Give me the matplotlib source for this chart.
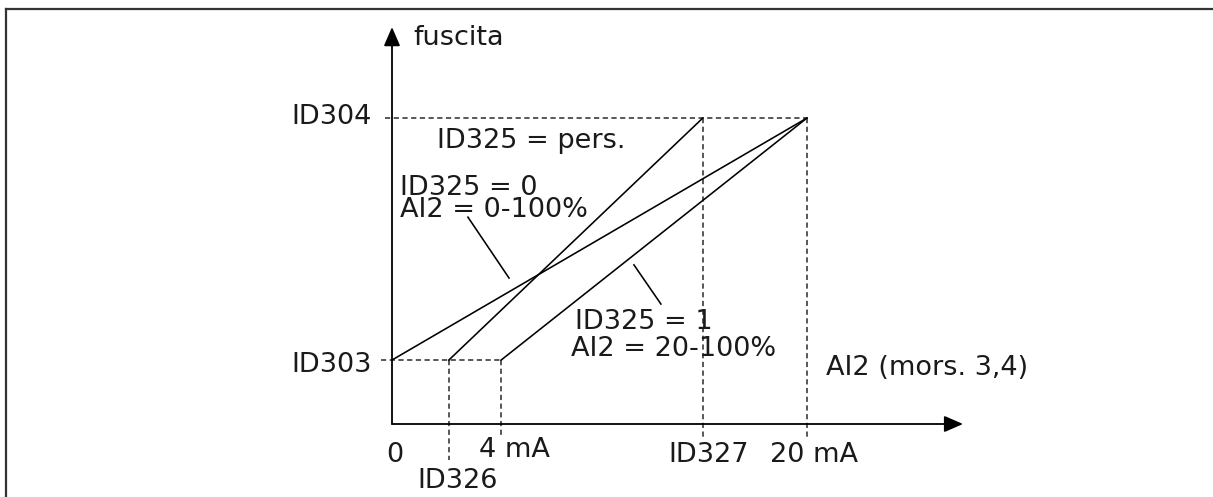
"""
Analog input AI2 scaling diagram (ID303/ID304, ID325, ID326/ID327)
Drawn on a plain axes with hand placed labels
"""

import matplotlib.pyplot as plt
from matplotlib.lines import Line2D

# Diagram values (x: 0..100 = 0..20 mA, y: 0..100 = output scale)
X_ID326 = 13.7
X_4MA = 26.3
X_ID327 = 74.9
X_20MA = 100.0
Y_ID303 = 20.9
Y_ID304 = 100.0

# characteristic curves
CURVE_0_100_X = [0.0, X_20MA]
CURVE_0_100_Y = [Y_ID303, Y_ID304]
CURVE_PERS_X = [X_ID326, X_ID327]
CURVE_PERS_Y = [Y_ID303, Y_ID304]
CURVE_20_100_X = [X_4MA, X_20MA]
CURVE_20_100_Y = [Y_ID303, Y_ID304]

FONT = 19.5
TXT = '#1a1a1a'
DASH = (0, (3.4, 2.3))


def create_diagram():
    fig = plt.figure(figsize=(12.13, 4.97), dpi=100, facecolor='white')
    ax = fig.add_axes([0, 0, 1, 1])
    # 4.15 px per x unit, 3.06 px per y unit, origin at pixel (392, 424)
    ax.set_xlim(-392 / 4.15, (1213 - 392) / 4.15)
    ax.set_ylim(-73 / 3.06, (497 - 73) / 3.06)
    ax.axis('off')

    # frame (top and left edges only)
    fig.add_artist(Line2D([6 / 1213, 1.0], [1 - 9 / 497, 1 - 9 / 497],
                          color='#333333', lw=1.6, transform=fig.transFigure))
    fig.add_artist(Line2D([6 / 1213, 6 / 1213], [0.0, 1 - 9 / 497],
                          color='#333333', lw=1.6, transform=fig.transFigure))

    # axes with arrow heads
    arrow = dict(arrowstyle='-|>,head_length=1.15,head_width=0.5',
                 mutation_scale=10, color='black', lw=1.3,
                 shrinkA=0, shrinkB=0)
    ax.annotate('', xy=(137.6, 0), xytext=(0, 0), arrowprops=arrow)
    ax.annotate('', xy=(0, 129.7), xytext=(0, 0), arrowprops=arrow)

    # dashed helper lines
    dkw = dict(color='#2a2a2a', lw=1.1, linestyle=DASH)
    ax.plot([-1.7, X_20MA], [Y_ID304, Y_ID304], **dkw)
    ax.plot([-2.7, X_4MA], [Y_ID303, Y_ID303], **dkw)
    ax.plot([X_ID326, X_ID326], [Y_ID303, -11.8], **dkw)
    ax.plot([X_4MA, X_4MA], [Y_ID303, -3.6], **dkw)
    ax.plot([X_ID327, X_ID327], [Y_ID304, -5.2], **dkw)
    ax.plot([X_20MA, X_20MA], [Y_ID304, -4.2], **dkw)

    # curves
    ckw = dict(color='black', lw=1.15)
    ax.plot(CURVE_0_100_X, CURVE_0_100_Y, **ckw)
    ax.plot(CURVE_PERS_X, CURVE_PERS_Y, **ckw)
    ax.plot(CURVE_20_100_X, CURVE_20_100_Y, **ckw)

    # leader lines
    ax.plot([18.3, 28.2], [67.6, 47.7], **ckw)
    ax.plot([58.3, 64.8], [52.0, 39.2], **ckw)

    # labels
    tkw = dict(fontsize=FONT, color=TXT, va='baseline')
    ax.text(5.1, 123.9, 'fuscita', ha='left', **tkw)
    ax.text(-4.8, 98.0, 'ID304', ha='right', **tkw)
    ax.text(-4.8, 17.0, 'ID303', ha='right', **tkw)
    ax.text(10.8, 90.2, 'ID325 = pers.', ha='left', **tkw)
    ax.text(1.9, 74.8, 'ID325 = 0', ha='left', **tkw)
    ax.text(1.9, 67.6, 'AI2 = 0-100%', ha='left', **tkw)
    ax.text(44.1, 31.0, 'ID325 = 1', ha='left', **tkw)
    ax.text(43.1, 22.2, 'AI2 = 20-100%', ha='left', **tkw)
    ax.text(104.6, 16.0, 'AI2 (mors. 3,4)', ha='left', **tkw)
    ax.text(0.7, -12.4, '0', ha='center', **tkw)
    ax.text(21.0, -10.8, '4 mA', ha='left', **tkw)
    ax.text(66.5, -12.4, 'ID327', ha='left', **tkw)
    ax.text(91.1, -12.4, '20 mA', ha='left', **tkw)
    ax.text(6.0, -20.9, 'ID326', ha='left', **tkw)

    return fig


def main():
    fig = create_diagram()
    fig.savefig('out.png', dpi=100, facecolor='white')
    plt.close(fig)


if __name__ == '__main__':
    main()
